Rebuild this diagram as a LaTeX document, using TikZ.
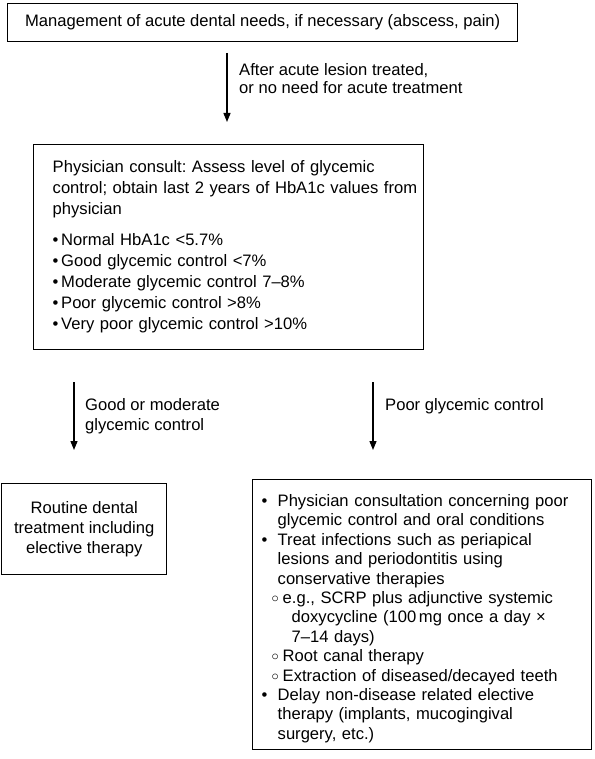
\documentclass[tikz,border=0pt]{standalone}
\usepackage{fontspec}
\setmainfont{Liberation Sans}
\usetikzlibrary{arrows.meta}
\setlength{\parindent}{0pt}
\frenchspacing
\newcommand{\bul}{\makebox[16pt][l]{\textbullet}}                       % top level bullet
\newcommand{\hng}{\hspace*{16pt}}                                       % continuation line
\newcommand{\sbul}{\hspace*{10pt}\makebox[11pt][l]{\raisebox{1pt}{\fontsize{13.5}{13}\selectfont$\circ$}}} % sub bullet
\newcommand{\shng}{\hspace*{30pt}}
\newcommand{\lbul}{\makebox[8.5pt][l]{\textbullet}}                     % list in consult box
\newcommand{\ind}{\hspace*{5pt}}

\begin{document}
\begin{tikzpicture}[x=1pt,y=-1pt,
  box/.style={draw, line width=1.4pt, inner ysep=0pt, anchor=north west},
  lbl/.style={inner sep=0pt, align=left, anchor=north west},
  flow/.style={-{Triangle[length=9pt,width=7pt]}, line width=1.3pt},
  font=\fontsize{16.6}{20}\selectfont]
  \useasboundingbox (0,0) rectangle (594,759);

  \node[box, minimum width=510, minimum height=38] (acute) at (7,3)
    {Management of acute dental needs, if necessary (abscess, pain)};  %Top box

  \node[box, minimum width=390, minimum height=205, text width=362,
        inner xsep=14, align=left, font=\fontsize{16.6}{21}\selectfont] (consult) at (33,144)
    {\ind Physician consult: Assess level of glycemic\\
     \ind\mbox{control; obtain last 2 years of HbA1c values from}\\
     \ind physician\\[10pt]
     \ind\lbul Normal HbA1c <5.7\%\\
     \ind\lbul Good glycemic control <7\%\\
     \ind\lbul Moderate glycemic control 7--8\%\\
     \ind\lbul Poor glycemic control >8\%\\
     \ind\lbul Very poor glycemic control >10\%};

  \node[box, minimum width=165, minimum height=91, align=center] (routine) at (1,483)
    {Routine dental\\treatment including\\elective therapy};          %Left result

  \node[box, minimum width=339, minimum height=270, text width=321,
        inner xsep=9, align=left, font=\fontsize{16.6}{19.4}\selectfont] (poor) at (252,479)
    {\rule{0pt}{20pt}\bul Physician consultation concerning poor\\
     \hng glycemic control and oral conditions\\
     \bul Treat infections such as periapical\\
     \hng lesions and periodontitis using\\
     \hng conservative therapies\\
     \sbul e.g., SCRP plus adjunctive systemic\\
     \shng doxycycline (100\,mg once a day ×\\
     \shng 7–14 days)\\
     \sbul Root canal therapy\\
     \sbul Extraction of diseased/decayed teeth\\
     \bul Delay non-disease related elective\\
     \hng therapy (implants, mucogingival\\
     \hng surgery, etc.)};                                              %Right result

  \coordinate (a1top) at (227,53);   \coordinate (a1end) at (227,122);
  \coordinate (a2top) at (74,382);   \coordinate (a2end) at (74,450);
  \coordinate (a3top) at (373,382);  \coordinate (a3end) at (373,450);

  \draw[flow] (a1top) -- (a1end);
  \draw[flow] (a2top) -- (a2end);
  \draw[flow] (a3top) -- (a3end);

  \node[lbl, font=\fontsize{16.6}{18}\selectfont] (treated) at (239,63)
    {After acute lesion treated,\\or no need for acute treatment};
  \node[lbl] (goodmod) at (85,398) {Good or moderate\\glycemic control};
  \node[lbl] (poorctl) at (385,398) {Poor glycemic control};
\end{tikzpicture}
\end{document}
